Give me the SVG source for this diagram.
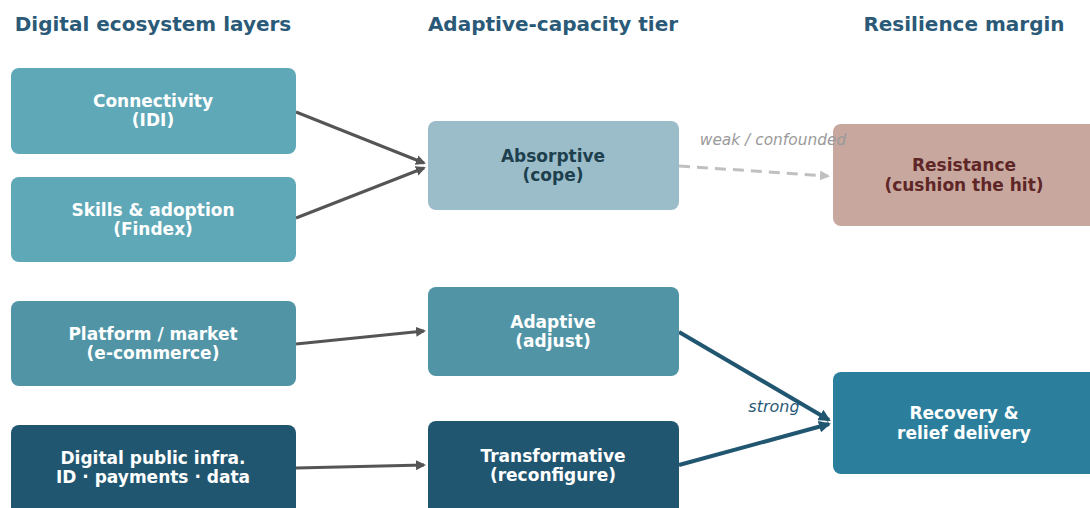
<svg xmlns="http://www.w3.org/2000/svg" width="1090" height="508" viewBox="0 0 1090 508">
<style>
.title{font-family:"DejaVu Sans",sans-serif;font-weight:bold;font-size:20px;fill:#2a5a78;text-anchor:middle}
.lbl{font-family:"DejaVu Sans",sans-serif;font-weight:bold;font-size:17px;fill:#ffffff;text-anchor:middle}
.dark{fill:#1d3f4e}
.red{fill:#5e2626}
.note{font-family:"DejaVu Sans",sans-serif;font-style:italic}
.gray{stroke:#555555;stroke-width:3;fill:none}
.strong{stroke:#215670;stroke-width:4;fill:none}
.weak{stroke:#c0c0c0;stroke-width:3;fill:none;stroke-dasharray:11,7}
</style>
<defs>
<marker id="ag" markerWidth="10" markerHeight="10" refX="8" refY="5" orient="auto" markerUnits="userSpaceOnUse" viewBox="0 0 10 10"><path d="M0,0 L10,5 L0,10 z" fill="#555555"/></marker>
<marker id="as" markerWidth="12" markerHeight="12" refX="10" refY="6" orient="auto" markerUnits="userSpaceOnUse" viewBox="0 0 12 12"><path d="M0,0 L12,6 L0,12 z" fill="#215670"/></marker>
<marker id="aw" markerWidth="10" markerHeight="10" refX="8" refY="5" orient="auto" markerUnits="userSpaceOnUse" viewBox="0 0 10 10"><path d="M0,0 L10,5 L0,10 z" fill="#c0c0c0"/></marker>
</defs>
<rect width="1090" height="508" fill="#ffffff"/>
<text class="title" x="153" y="31">Digital ecosystem layers</text>
<text class="title" x="553" y="31">Adaptive-capacity tier</text>
<text class="title" x="964" y="31">Resilience margin</text>
<g id="connectors">
<line class="gray" x1="296" y1="112" x2="424" y2="163" marker-end="url(#ag)"/>
<line class="gray" x1="296" y1="218" x2="424" y2="168" marker-end="url(#ag)"/>
<line class="gray" x1="296" y1="344" x2="424" y2="331" marker-end="url(#ag)"/>
<line class="gray" x1="296" y1="468" x2="424" y2="465" marker-end="url(#ag)"/>
<line class="weak" x1="679" y1="166" x2="828" y2="176" marker-end="url(#aw)"/>
<line class="strong" x1="679" y1="332" x2="829" y2="420" marker-end="url(#as)"/>
<line class="strong" x1="679" y1="465" x2="829" y2="424" marker-end="url(#as)"/>
</g>
<g id="n-connectivity"><rect x="11" y="68" width="285" height="86" rx="8" fill="#5fa8b8"/><text class="lbl" x="153" y="107">Connectivity</text><text class="lbl" x="153" y="126">(IDI)</text></g>
<g id="n-skills"><rect x="11" y="177" width="285" height="85" rx="8" fill="#5fa8b8"/><text class="lbl" x="153" y="216">Skills &amp; adoption</text><text class="lbl" x="153" y="235">(Findex)</text></g>
<g id="n-platform"><rect x="11" y="301" width="285" height="85" rx="8" fill="#5094a6"/><text class="lbl" x="153" y="340">Platform / market</text><text class="lbl" x="153" y="359">(e-commerce)</text></g>
<g id="n-dpi"><rect x="11" y="425" width="285" height="95" rx="8" fill="#215670"/><text class="lbl" x="153" y="464">Digital public infra.</text><text class="lbl" x="153" y="483">ID · payments · data</text></g>
<g id="n-absorptive"><rect x="428" y="121" width="251" height="89" rx="8" fill="#9bbdc9"/><text class="lbl dark" x="553" y="162">Absorptive</text><text class="lbl dark" x="553" y="181">(cope)</text></g>
<g id="n-adaptive"><rect x="428" y="287" width="251" height="89" rx="8" fill="#5094a6"/><text class="lbl" x="553" y="328">Adaptive</text><text class="lbl" x="553" y="347">(adjust)</text></g>
<g id="n-transformative"><rect x="428" y="421" width="251" height="99" rx="8" fill="#215670"/><text class="lbl" x="553" y="462">Transformative</text><text class="lbl" x="553" y="481">(reconfigure)</text></g>
<g id="n-resistance"><rect x="833" y="124" width="270" height="102" rx="8" fill="#c8a89e"/><text class="lbl red" x="964" y="171">Resistance</text><text class="lbl red" x="964" y="191">(cushion the hit)</text></g>
<g id="n-recovery"><rect x="833" y="372" width="270" height="102" rx="8" fill="#2b7f9c"/><text class="lbl" x="964" y="419">Recovery &amp;</text><text class="lbl" x="964" y="439">relief delivery</text></g>
<g id="connector-labels">
<text class="note" x="773" y="145" font-size="15.4" text-anchor="middle" fill="#9a9a9a">weak / confounded</text>
<text class="note" x="774" y="412" font-size="16" text-anchor="middle" fill="#2a5a78">strong</text>
</g>
</svg>
